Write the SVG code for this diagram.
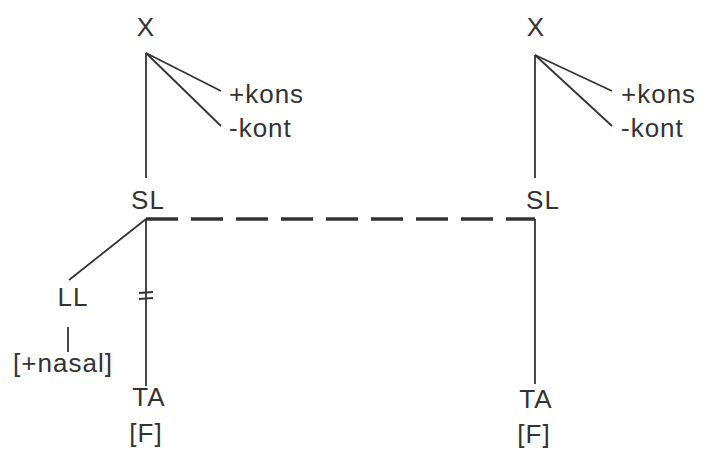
<svg xmlns="http://www.w3.org/2000/svg" width="704" height="450" viewBox="0 0 704 450">
<style>
text{font-family:"Liberation Sans",Arial,sans-serif;font-size:26px;fill:#333;letter-spacing:1px}
.m{text-anchor:middle}
line,path{stroke:#333;stroke-width:1.8;fill:none}
.d{stroke-width:3.5;stroke-dasharray:32 13}
</style>
<rect width="704" height="450" fill="#fff"/>
<g id="connectors">
<line x1="146" y1="53" x2="146" y2="178"/>
<line x1="146" y1="53" x2="221" y2="91"/>
<line x1="146" y1="53" x2="221" y2="126"/>
<line x1="535" y1="55" x2="535" y2="178"/>
<line x1="535" y1="55" x2="612" y2="91"/>
<line x1="535" y1="55" x2="612" y2="126"/>
<line class="d" x1="146" y1="219" x2="535" y2="219"/>
<line x1="146" y1="219" x2="146" y2="386"/>
<line x1="535" y1="219" x2="535" y2="384"/>
<line x1="146" y1="219" x2="69" y2="280"/>
<line x1="68" y1="327" x2="68" y2="352"/>
<line x1="139" y1="293" x2="153" y2="292"/>
<line x1="139" y1="299" x2="153" y2="298"/>
</g>
<g id="x1"><text class="m" x="146" y="36">X</text></g>
<g id="kons1"><text x="229" y="103">+kons</text></g>
<g id="kont1"><text x="229" y="137">-kont</text></g>
<g id="sl1"><text class="m" x="148" y="209">SL</text></g>
<g id="ll"><text class="m" x="73" y="306">LL</text></g>
<g id="nasal"><text class="m" x="63" y="372">[+nasal]</text></g>
<g id="ta1"><text class="m" x="149" y="406">TA</text></g>
<g id="f1"><text class="m" x="146" y="442">[F]</text></g>
<g id="x2"><text class="m" x="536" y="36">X</text></g>
<g id="kons2"><text x="621" y="103">+kons</text></g>
<g id="kont2"><text x="621" y="137">-kont</text></g>
<g id="sl2"><text class="m" x="543" y="209">SL</text></g>
<g id="ta2"><text class="m" x="536" y="408">TA</text></g>
<g id="f2"><text class="m" x="534" y="443">[F]</text></g>
</svg>
